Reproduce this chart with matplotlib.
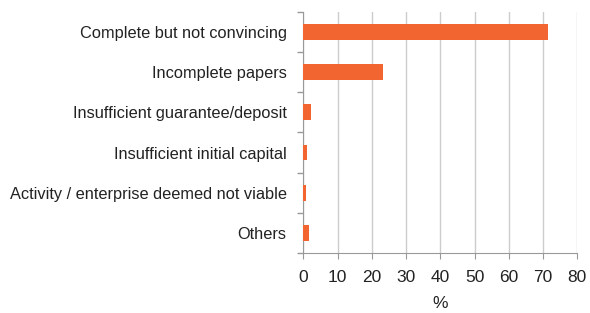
import matplotlib
matplotlib.use("Agg")
import matplotlib.pyplot as plt

categories = ["Complete but not convincing", "Incomplete papers",
              "Insufficient guarantee/deposit", "Insufficient initial capital",
              "Activity / enterprise deemed not viable", "Others"]
values = [71.5, 23.4, 2.2, 1.1, 0.7, 1.6]
xticks = [0, 10, 20, 30, 40, 50, 60, 70, 80]

plt.rcParams['font.family'] = ['Liberation Sans', 'DejaVu Sans']

fig = plt.figure(figsize=(5.9, 3.13), dpi=100)
ax = fig.add_axes([0.514, 0.191, 0.4645, 0.772])
y = list(range(len(categories)))
ax.barh(y, values, height=0.39, color="#F26531", zorder=3)
ax.set_ylim(len(categories) - 0.5, -0.5)
ax.set_xlim(0, 80)
ax.set_xticks(xticks)
ax.set_yticks(y)
ax.set_yticklabels(categories, fontsize=11.8, color="#222222")
ax.set_yticks([i - 0.5 for i in range(len(categories) + 1)], minor=True)
ax.tick_params(axis='y', which='major', length=0, pad=12)
ax.tick_params(axis='y', which='minor', length=4.5, color="#999999", width=1)
ax.tick_params(axis='x', length=4, color="#999999", labelsize=12.5, labelcolor="#222222", pad=8)
ax.grid(axis='x', color="#CCCCCC", linewidth=1, zorder=0)
for s in ['top', 'right']:
    ax.spines[s].set_visible(False)
for s in ['left', 'bottom']:
    ax.spines[s].set_color("#999999")
ax.set_xlabel("%", fontsize=12.5, color="#222222", labelpad=8)
fig.savefig("out.png", dpi=100)
